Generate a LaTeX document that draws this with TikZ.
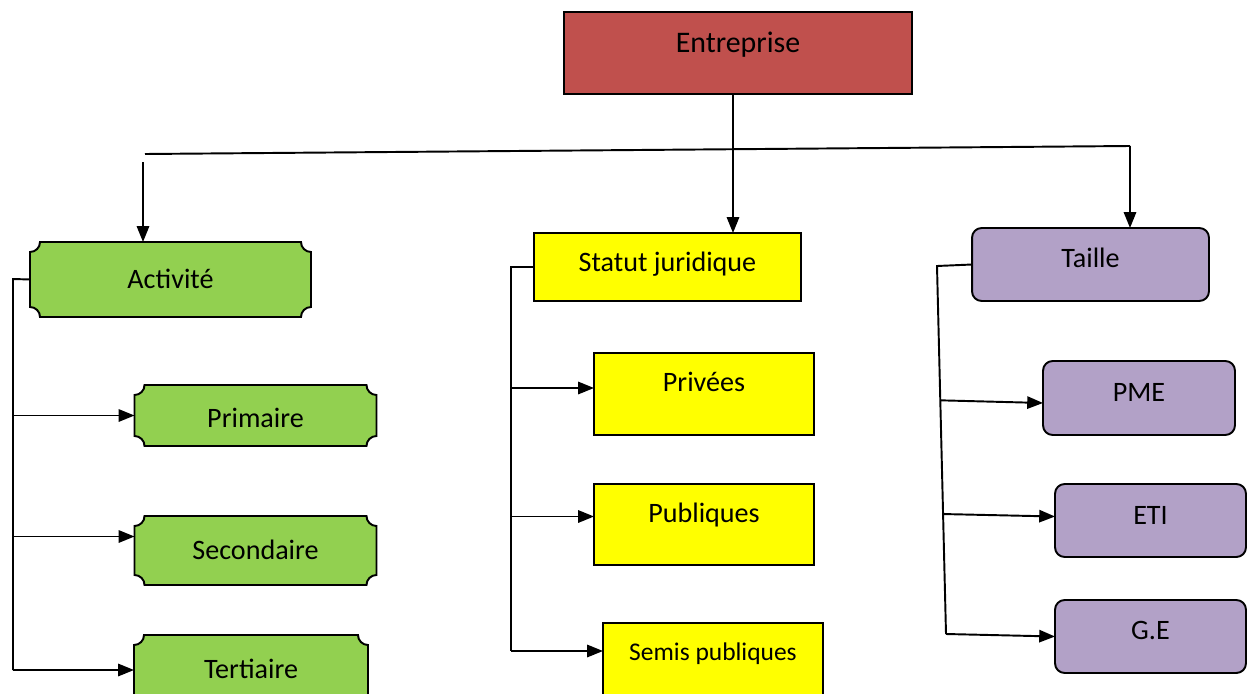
\documentclass[tikz,border=0pt]{standalone}
\usepackage{fontspec}
\setmainfont{Carlito}
\usetikzlibrary{arrows.meta, calc, backgrounds}
\definecolor{entred}{HTML}{C0504D}
\definecolor{actgreen}{HTML}{92D050}
\definecolor{statyellow}{HTML}{FFFF00}
\definecolor{taillemauve}{HTML}{B2A1C7}
\tikzset{
  >={Triangle[length=9pt,width=7pt]},
  every node/.style={inner sep=0pt, outer sep=0pt, text height=10pt, text depth=0pt,
    font=\fontsize{16}{19}\selectfont},
  lift/.style={text depth=#1},
  rootbox/.style={draw, line width=1.1pt, fill=entred},
  statbox/.style={draw, line width=1.1pt, fill=statyellow},
  taillebox/.style={draw, line width=1.1pt, fill=taillemauve, rounded corners=5.5pt},
  plaque/.style={draw, line width=1.1pt, fill=actgreen},
  link/.style={line width=1.1pt},
}
% green boxes with cut-in corners
\newcommand\plaque[1]{%
  \draw[plaque] ($(#1.north west)+(10,0)$) -- ($(#1.north east)+(-10,0)$)
    arc[start angle=180, end angle=90, radius=10]
    -- ($(#1.south east)+(0,-10)$)
    arc[start angle=270, end angle=180, radius=10]
    -- ($(#1.south west)+(10,0)$)
    arc[start angle=0, end angle=-90, radius=10]
    -- ($(#1.north west)+(0,10)$)
    arc[start angle=90, end angle=0, radius=10] -- cycle;}

\begin{document}
\begin{tikzpicture}[x=0.02cm, y=-0.02cm]
  \useasboundingbox (0,0) rectangle (1254,693);

  \node[rootbox, minimum width=6.96cm, minimum height=1.64cm, font=\fontsize{17}{20}\selectfont,
    text height=10.7pt, lift=11.3pt] (root) at (738,53) {Entreprise};

  \node[minimum width=5.62cm, minimum height=1.5cm] (act) at (170.5,279.5) {Activité};
  \node[minimum width=4.84cm, minimum height=1.22cm, text height=14pt] (prim) at (255.5,415.5) {Primaire};
  \node[minimum width=4.84cm, minimum height=1.38cm] (sec) at (255.5,550.5) {Secondaire};
  \node[minimum width=4.68cm, minimum height=1.4cm] (tert) at (251,670) {Tertiaire};

  \node[statbox, minimum width=5.34cm, minimum height=1.36cm, lift=5.1pt] (stat) at (667.5,267) {Statut juridique};
  \node[statbox, minimum width=4.4cm, minimum height=1.64cm, lift=13pt] (priv) at (704,394) {Privées};
  \node[statbox, minimum width=4.4cm, minimum height=1.62cm, lift=11.9pt] (pub) at (704,524.5) {Publiques};
  \node[statbox, minimum width=4.4cm, minimum height=1.64cm, font=\fontsize{14.5}{17}\selectfont,
    text height=9.2pt, lift=13.6pt] (semi) at (713,664) {Semis publiques};

  \node[taillebox, minimum width=4.74cm, minimum height=1.46cm, lift=6.2pt] (taille) at (1090.5,264.5) {Taille};
  \node[taillebox, minimum width=3.84cm, minimum height=1.48cm, lift=6.2pt] (pme) at (1139,398) {PME};
  \node[taillebox, minimum width=3.82cm, minimum height=1.46cm, lift=5.7pt] (eti) at (1150.5,520.5) {ETI};
  \node[taillebox, minimum width=3.82cm, minimum height=1.46cm, lift=6.2pt] (ge) at (1150.5,636.5) {G.E};

  \begin{pgfonlayer}{background}
    \foreach \n in {act,prim,sec,tert} {\plaque{\n}}
  \end{pgfonlayer}

  % top level
  \coordinate (hubL) at (145,154);
  \coordinate (hubR) at (1130,146);
  \coordinate (actIn) at (143,162);
  \coordinate (rootOut) at ($(root.south)+(-5,0)$);
  \draw[link] (hubL) -- (hubR);
  \draw[link,->] (rootOut) -- (rootOut |- stat.north);
  \draw[link,->] (hubR) -- (hubR |- taille.north);
  \draw[link,->] (actIn) -- (actIn |- act.north);

  % Activité
  \coordinate (actBus) at (13,279);
  \coordinate (secIn) at ($(sec.west)+(0,-14)$);
  \draw[link] (act.west) -- (actBus) -- (actBus |- tert.west);
  \draw[link,->] (actBus |- prim.west) -- (prim.west);
  \draw[link,->] (actBus |- secIn) -- (secIn);
  \draw[link,->] (actBus |- tert.west) -- (tert.west);

  % Statut juridique
  \coordinate (statBus) at (511,267);
  \coordinate (privIn) at ($(priv.west)+(0,-6)$);
  \coordinate (pubIn) at ($(pub.west)+(0,-8)$);
  \coordinate (semiIn) at ($(semi.west)+(0,-13)$);
  \draw[link] (stat.west) -- (statBus) -- (statBus |- semiIn);
  \draw[link,->] (statBus |- privIn) -- (privIn);
  \draw[link,->] (statBus |- pubIn) -- (pubIn);
  \draw[link,->] (statBus |- semiIn) -- (semiIn);

  % Taille
  \coordinate (tBusTop) at (937,266);
  \coordinate (tBusBot) at (946,634);
  \draw[link] (taille.west) -- (tBusTop) -- (tBusBot);
  \draw[link,->] ($(tBusTop)!0.365!(tBusBot)$) -- ($(pme.west)+(0,5)$);
  \draw[link,->] ($(tBusTop)!0.674!(tBusBot)$) -- ($(eti.west)+(0,-4)$);
  \draw[link,->] (tBusBot) -- (ge.west);
\end{tikzpicture}
\end{document}
